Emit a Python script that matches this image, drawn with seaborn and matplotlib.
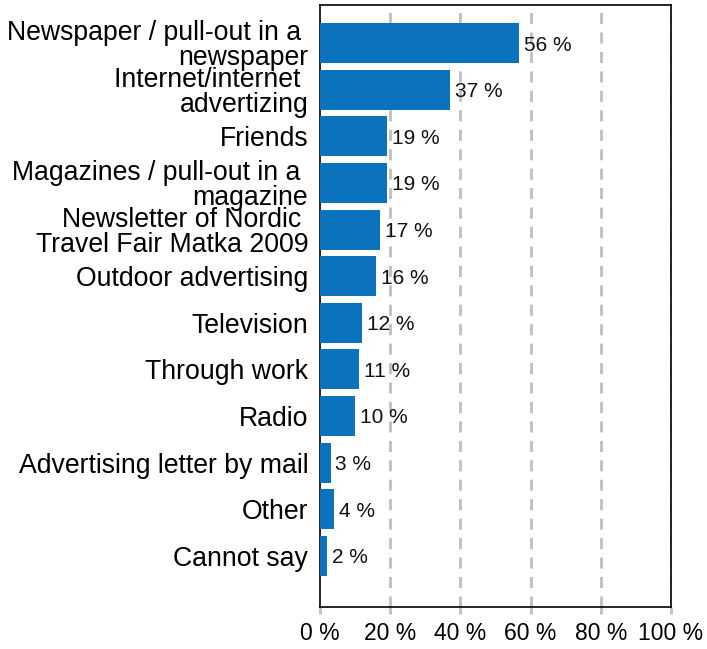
import matplotlib
matplotlib.use("Agg")
import matplotlib.pyplot as plt
import seaborn as sns
import pandas as pd
from matplotlib.ticker import FuncFormatter

categories = [
    "Newspaper / pull-out in a \nnewspaper",
    "Internet/internet \nadvertizing",
    "Friends",
    "Magazines / pull-out in a \nmagazine",
    "Newsletter of Nordic \nTravel Fair Matka 2009",
    "Outdoor advertising",
    "Television",
    "Through work",
    "Radio",
    "Advertising letter by mail",
    "Other",
    "Cannot say",
]
values = [56.7, 37, 19, 19, 17, 16, 12, 11, 10, 3, 4, 2]
value_labels = ["56 %", "37 %", "19 %", "19 %", "17 %", "16 %", "12 %", "11 %", "10 %", "3 %", "4 %", "2 %"]
xticks = [0, 20, 40, 60, 80, 100]

sns.set_theme(style="white")
plt.rcParams['font.family'] = ['Liberation Sans', 'DejaVu Sans']

df = pd.DataFrame({"cat": categories, "val": values})
fig = plt.figure(figsize=(7.07, 6.49), dpi=100)
ax = fig.add_axes([320/707, 1-607/649, 351/707, 602/649])
sns.barplot(data=df, x="val", y="cat", color="#0b72bd", saturation=1, width=0.86, ax=ax,
            orient="h", zorder=3, linewidth=0)
for p, lab in zip(ax.patches, value_labels):
    ax.text(p.get_width() + 1.4, p.get_y() + p.get_height()/2 + 0.04, lab, va="center", ha="left",
            fontsize=15, color="#111111", zorder=4)
ax.set_xlim(0, 100)
ax.set_ylim(12.1, -0.82)
ax.set_xticks(xticks)
ax.xaxis.set_major_formatter(FuncFormatter(lambda v, p: f"{int(v)} %"))
for x in xticks[1:]:
    ax.axvline(x, color="#bfbfbf", linestyle=(0, (4, 3)), linewidth=2, zorder=1)
ax.set_xlabel("")
ax.set_ylabel("")
ax.tick_params(axis="x", bottom=True, length=5, width=2, color="#bfbfbf", labelsize=16.5, pad=6)
ax.tick_params(axis="y", left=False, length=0, labelsize=19.2, pad=8.5)
for lab in ax.get_yticklabels():
    lab.set_linespacing(0.95)
    lab.set_color("black")
for lab in ax.get_xticklabels():
    lab.set_color("black")
for s in ax.spines.values():
    s.set_color("black")
    s.set_linewidth(1.2)
fig.savefig("out.png", dpi=100)
